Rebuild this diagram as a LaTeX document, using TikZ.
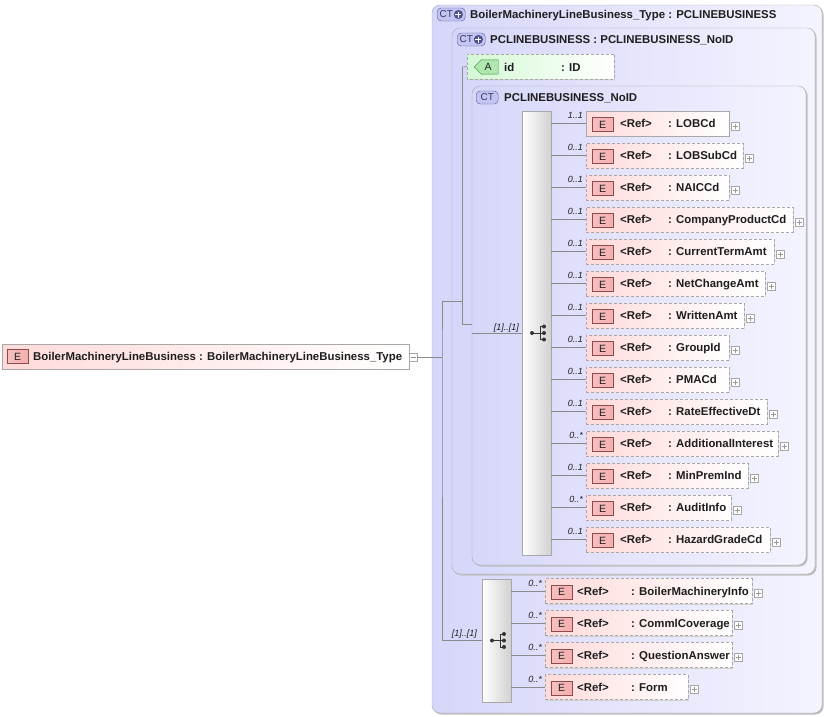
\documentclass[tikz,border=0pt]{standalone}
\usepackage{fontspec}
\setmainfont{Liberation Sans}
\usetikzlibrary{shadows,calc,shapes.misc}
\definecolor{ctL}{HTML}{D6D6FA}
\definecolor{ctR}{HTML}{F4F4FF}
\definecolor{bord}{HTML}{A8A8A8}
\definecolor{elL}{HTML}{FFDADA}
\definecolor{elR}{HTML}{FFFFFF}
\definecolor{ebadge}{HTML}{F4AFAF}
\definecolor{ebord}{HTML}{8C4A4A}
\definecolor{ctbadge}{HTML}{C4C4F2}
\definecolor{ctbord}{HTML}{5A5A9A}
\definecolor{attL}{HTML}{D4F8D4}
\definecolor{abadge}{HTML}{B0E6B0}
\definecolor{abord}{HTML}{3E8A3E}
\definecolor{txt}{HTML}{1E1E1E}
\definecolor{lin}{HTML}{8A8A8A}
\tikzset{
  ctbox/.style={draw=bord, rounded corners=8pt, left color=ctL, right color=ctR, inner sep=0pt, outer sep=0pt, anchor=north west,
    drop shadow={shadow xshift=1.5pt, shadow yshift=-1.5pt, fill=black!25, opacity=1}},
  elbox/.style={draw=bord, left color=elL, right color=elR, inner sep=0pt, outer sep=0pt, anchor=west, minimum height=25pt,
    drop shadow={shadow xshift=1.2pt, shadow yshift=-1.2pt, fill=black!18, opacity=1}},
  optl/.style={dash pattern=on 3pt off 2pt},
  seqbox/.style={draw=bord, left color=white, right color=black!18, inner sep=0pt, outer sep=0pt, anchor=north west,
    drop shadow={shadow xshift=1.2pt, shadow yshift=-1.2pt, fill=black!18, opacity=1}},
  ebadgest/.style={draw=ebord, left color=ebadge!80, right color=ebadge, inner sep=0pt, minimum width=21pt, minimum height=14pt, font=\fontsize{10.5}{12}\selectfont, text=txt, anchor=west},
  ctbadgest/.style={draw=ctbord, fill=ctbadge, rounded corners=4pt, inner sep=0pt, minimum width=28pt, minimum height=13pt, anchor=west},
  lbl/.style={font=\fontsize{11.4}{13}\selectfont\bfseries, text=txt, inner sep=0pt, anchor=base west},
  mult/.style={font=\fontsize{9}{10}\selectfont\itshape, text=txt, inner sep=0pt, anchor=base east},
  conn/.style={draw=lin, line width=0.6pt},
  plusbox/.style={draw=black!35, fill=white, inner sep=0pt, minimum size=8pt},
  pics/seqicon/.style={code={
    \draw[black!80, line width=0.8pt] (-4.5,0) -- (3.5,0) (3.5,-6.5) -- (3.5,6.5)
      (3.5,-6.5) -- (7.5,-6.5) (3.5,6.5) -- (7.5,6.5) (3.5,0) -- (7.5,0);
    \fill[black!80] (-4.5,0) circle (2pt) (7.5,-6.5) circle (2pt) (7.5,0) circle (2pt) (7.5,6.5) circle (2pt);
  }},
}
\newcommand{\ctplus}[1]{%
  \fill[ctbord!90!black] ($(#1.east)+(-7,0)$) circle (4.6pt);
  \draw[white, line width=1.4pt] ($(#1.east)+(-10,0)$) -- ++(6,0) ($(#1.east)+(-7,-3)$) -- ++(0,6);}
\begin{document}
\begin{tikzpicture}[x=1pt,y=-1pt]
\useasboundingbox (0,0) rectangle (826,716);
\fill[white] (0,0) rectangle (826,716);

% root element
\node[elbox, minimum width=407pt, anchor=north west] (root) at (2,344) {};
\node[ebadgest] (rootb) at (7,356.5) {E};
\node[lbl] (roott) at (33,360.7) {BoilerMachineryLineBusiness : BoilerMachineryLineBusiness\_Type};
\node[plusbox, anchor=west] (rootm) at (409,357) {};
\draw[black!45] ($(rootm.center)+(-2.5,0)$) -- ++(5,0);

% outer complex type
\node[ctbox, minimum width=390pt, minimum height=708pt] (ct1) at (432,5) {};
\node[ctbadgest] (ct1b) at (437,14.5) {\hspace*{-10pt}\fontsize{10}{11}\selectfont\color{ctbord!60!black}CT};
\ctplus{ct1b}
\node[lbl] (ct1t) at (470,18.7) {BoilerMachineryLineBusiness\_Type : PCLINEBUSINESS};

\node[ctbox, minimum width=363pt, minimum height=546pt] (ct2) at (452,28) {};
\node[ctbadgest] (ct2b) at (457,39.5) {\hspace*{-10pt}\fontsize{10}{11}\selectfont\color{ctbord!60!black}CT};
\ctplus{ct2b}
\node[lbl] (ct2t) at (490,43.7) {PCLINEBUSINESS : PCLINEBUSINESS\_NoID};

% attribute
\node[chamfered rectangle, chamfered rectangle corners={north west,south west}, chamfered rectangle xsep=6pt,
  draw=bord, optl, left color=attL, right color=white, minimum width=147pt, minimum height=25pt, inner sep=0pt, outer sep=0pt,
  anchor=west, drop shadow={shadow xshift=1.2pt, shadow yshift=-1.2pt, fill=black!18, opacity=1}] (att) at (467,66.5) {};
\node[chamfered rectangle, chamfered rectangle corners={north west,south west}, chamfered rectangle xsep=4pt,
  draw=abord, fill=abadge, minimum width=24pt, minimum height=14pt, inner sep=0pt, anchor=west,
  font=\fontsize{10.5}{12}\selectfont, text=txt] (attb) at (474,67) {\hspace*{4pt}A};
\node[lbl] (attn) at (504,71.2) {id};
\node[lbl] (attt) at (561,71.2) {: ID};

\node[ctbox, minimum width=334pt, minimum height=479pt] (ct3) at (472,86) {};
\node[ctbadgest, minimum width=22pt] (ct3b) at (476,97.5) {\fontsize{10}{11}\selectfont\color{ctbord!60!black}CT};
\node[lbl] (ct3t) at (504,101.7) {PCLINEBUSINESS\_NoID};

% sequences
\node[seqbox, minimum width=29pt, minimum height=444pt] (seq1) at (522,111) {};
\pic at (seq1.center) {seqicon};
\node[seqbox, minimum width=29pt, minimum height=123pt] (seq2) at (482,579) {};
\pic at (seq2.center) {seqicon};

% tree connectors
\coordinate (j1) at (442,357);
\coordinate (j2) at (442,301);
\coordinate (j3) at (462,301);
\coordinate (j4) at (462,67);
\coordinate (j5) at (462,324);
\draw[conn] (rootm.east) -- (j1);
\draw[conn] (j2) -- (j1) |- (seq2.west);
\draw[conn] (j2) -- (j3);
\draw[conn] (j4) -- (j5);
\draw[conn] (j4) -- (att.west);
\draw[conn] (j5) -- (ct3.west |- j5);
\draw[conn] (ct3.west |- seq1.west) -- (seq1.west);
\node[mult] at ($(seq1.west)+(-3,-3)$) {[1]..[1]};
\node[mult] at ($(seq2.west)+(-5,-4)$) {[1]..[1]};

% first sequence elements
\foreach \yy/\nm/\rx/\mu/\st [count=\i] in {
  123.5/LOBCd/729/1..1/solid,
  155.5/LOBSubCd/743/0..1/optl,
  187.5/NAICCd/729/0..1/optl,
  219.5/CompanyProductCd/793/0..1/optl,
  251.5/CurrentTermAmt/774/0..1/optl,
  283.5/NetChangeAmt/765/0..1/optl,
  315.5/WrittenAmt/744/0..1/optl,
  347.5/GroupId/729/0..1/optl,
  379.5/PMACd/729/0..1/optl,
  411.5/RateEffectiveDt/767/0..1/optl,
  443.5/AdditionalInterest/778/0..*/optl,
  475.5/MinPremInd/748/0..1/optl,
  507.5/AuditInfo/731/0..*/optl,
  539.5/HazardGradeCd/770/0..1/optl}{
  \pgfmathsetmacro\w{\rx-586}
  \node[elbox, \st, minimum width=\w pt] (a\i) at (586,\yy) {};
  \node[ebadgest] (a\i b) at (592,\yy+1) {E};
  \node[lbl] (a\i r) at (620,\yy+4.2) {<Ref>};
  \node[lbl] (a\i n) at (668,\yy+4.2) {: \nm};
  \node[plusbox] (a\i p) at (\rx+6,\yy+2.5) {};
  \draw[black!40] ($(a\i p.center)+(-2.5,0)$) -- ++(5,0) ($(a\i p.center)+(0,-2.5)$) -- ++(0,5);
  \draw[conn] (seq1.east |- a\i.west) -- (a\i.west);
  \node[mult] at ($(a\i.west)+(-3,-5)$) {\mu};
}

% second sequence elements
\foreach \yy/\nm/\rx [count=\i] in {
  591/BoilerMachineryInfo/752,
  623/CommlCoverage/732,
  655/QuestionAnswer/732,
  687/Form/688}{
  \pgfmathsetmacro\w{\rx-545}
  \node[elbox, optl, minimum width=\w pt] (b\i) at (545,\yy) {};
  \node[ebadgest] (b\i b) at (551,\yy+1) {E};
  \node[lbl] (b\i r) at (577,\yy+4.2) {<Ref>};
  \node[lbl] (b\i n) at (631,\yy+4.2) {: \nm};
  \node[plusbox] (b\i p) at (\rx+6,\yy+2.5) {};
  \draw[black!40] ($(b\i p.center)+(-2.5,0)$) -- ++(5,0) ($(b\i p.center)+(0,-2.5)$) -- ++(0,5);
  \draw[conn] (seq2.east |- b\i.west) -- (b\i.west);
  \node[mult] at ($(b\i.west)+(-3,-5)$) {0..*};
}
\end{tikzpicture}
\end{document}
